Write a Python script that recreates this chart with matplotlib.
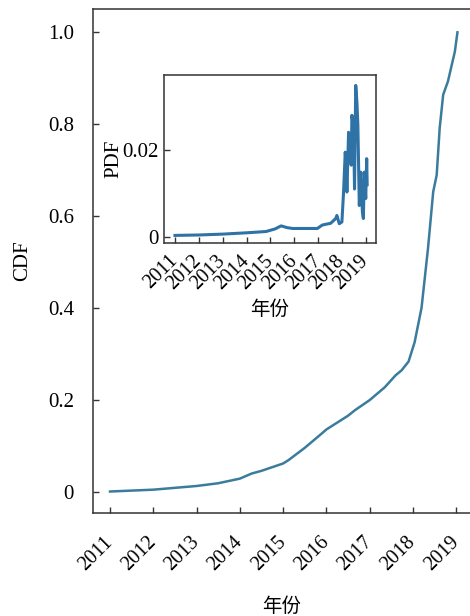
import matplotlib
matplotlib.use("Agg")
import matplotlib.pyplot as plt
from matplotlib.ticker import FuncFormatter

plt.rcParams['font.family'] = ['Liberation Serif', 'Noto Sans CJK SC', 'DejaVu Sans']

# CDF data (main plot)
cdf_years = [2011.0, 2011.5, 2012.0, 2012.5, 2013.0, 2013.5, 2014.0, 2014.27, 2014.5, 2015.0,
             2015.12, 2015.5, 2015.89, 2016.0, 2016.5, 2016.66, 2017.0, 2017.35, 2017.6,
             2017.74, 2017.9, 2018.04, 2018.2, 2018.35, 2018.47, 2018.55, 2018.62, 2018.7,
             2018.81, 2018.97, 2019.03]
cdf_values = [0.0, 0.002, 0.004, 0.008, 0.012, 0.018, 0.028, 0.039, 0.045, 0.061,
              0.068, 0.095, 0.126, 0.135, 0.165, 0.177, 0.199, 0.227, 0.253,
              0.264, 0.283, 0.325, 0.40, 0.53, 0.653, 0.689, 0.792, 0.864,
              0.893, 0.958, 1.0]

# PDF data (inset)
pdf_years = [2011.0, 2012.0, 2013.0, 2014.0, 2014.82, 2015.2, 2015.45, 2015.7, 2015.93,
             2016.5, 2016.97, 2017.18, 2017.53, 2017.74, 2017.79, 2017.89, 2018.0,
             2018.07, 2018.14, 2018.18, 2018.21, 2018.28, 2018.35, 2018.39, 2018.42,
             2018.49, 2018.53, 2018.58, 2018.63, 2018.67, 2018.73, 2018.79, 2018.86,
             2018.90, 2018.94, 2019.0, 2019.04, 2019.06]
pdf_values = [0.0003, 0.0004, 0.0006, 0.0009, 0.0012, 0.0018, 0.0025, 0.0021, 0.0019,
              0.0019, 0.0019, 0.0027, 0.0031, 0.0042, 0.0049, 0.003, 0.0034,
              0.0103, 0.0195, 0.0165, 0.0103, 0.0241, 0.0203, 0.0165, 0.028,
              0.0249, 0.011, 0.0349, 0.031, 0.0257, 0.0072, 0.0149, 0.0057,
              0.0042, 0.0149, 0.0088, 0.018, 0.012]

year_ticks = [2011, 2012, 2013, 2014, 2015, 2016, 2017, 2018, 2019]
cdf_ticks = [0, 0.2, 0.4, 0.6, 0.8, 1.0]
pdf_ticks = [0, 0.02]

W, H = 470, 616
fig = plt.figure(figsize=(W / 100, H / 100), dpi=100)

def frac(l, t, r, b):
    return [l / W, 1 - b / H, (r - l) / W, (b - t) / H]

spine_c = '#333333'
fs = 15
xfs = 14.5

ax = fig.add_axes(frac(92.7, 9.3, 470, 513))
ax.plot(cdf_years, cdf_values, color='#3b7c9c', lw=1.8)
ax.set_xlim(2010.60, 2019.32)
ax.set_ylim(-0.0468, 1.0501)
ax.set_xticks(year_ticks)
ax.set_yticks(cdf_ticks)
ax.yaxis.set_major_formatter(FuncFormatter(lambda v, _: '0' if abs(v) < 1e-12 else '%.1f' % v))
ax.spines['right'].set_visible(False)
for s in ax.spines.values():
    s.set_color(spine_c)
    s.set_linewidth(1.1)
ax.tick_params(direction='in', length=4.5, width=1.0, color=spine_c, labelsize=fs)
ax.tick_params(axis='x', pad=19, labelsize=xfs)
ax.tick_params(axis='y', pad=13.5)
for lab in ax.get_xticklabels():
    lab.set_rotation(45)
    lab.set_ha('right')
    lab.set_va('center')
    lab.set_rotation_mode('anchor')
ax.set_xlabel('年份', fontsize=14, labelpad=16.5)
ax.set_ylabel('CDF', fontsize=fs, labelpad=11.5)

ins = fig.add_axes(frac(164, 75, 376, 242.7))
ins.plot(pdf_years, pdf_values, color='#2f73a6', lw=2.2)
ins.set_xlim(2010.54, 2019.43)
ins.set_ylim(-0.00138, 0.0373)
ins.set_xticks(year_ticks)
ins.set_yticks(pdf_ticks)
ins.yaxis.set_major_formatter(FuncFormatter(lambda v, _: '0' if abs(v) < 1e-12 else '%.2f' % v))
for s in ins.spines.values():
    s.set_color(spine_c)
    s.set_linewidth(1.1)
ins.tick_params(direction='in', length=4.5, width=1.0, color=spine_c, labelsize=fs)
ins.tick_params(axis='x', pad=11, labelsize=xfs)
ins.tick_params(axis='y', pad=4)
for lab in ins.get_xticklabels():
    lab.set_rotation(45)
    lab.set_ha('right')
    lab.set_va('center')
    lab.set_rotation_mode('anchor')
ins.set_xlabel('年份', fontsize=14, labelpad=5)
ins.set_ylabel('PDF', fontsize=fs, labelpad=-1)

fig.savefig('out.png', dpi=100)
